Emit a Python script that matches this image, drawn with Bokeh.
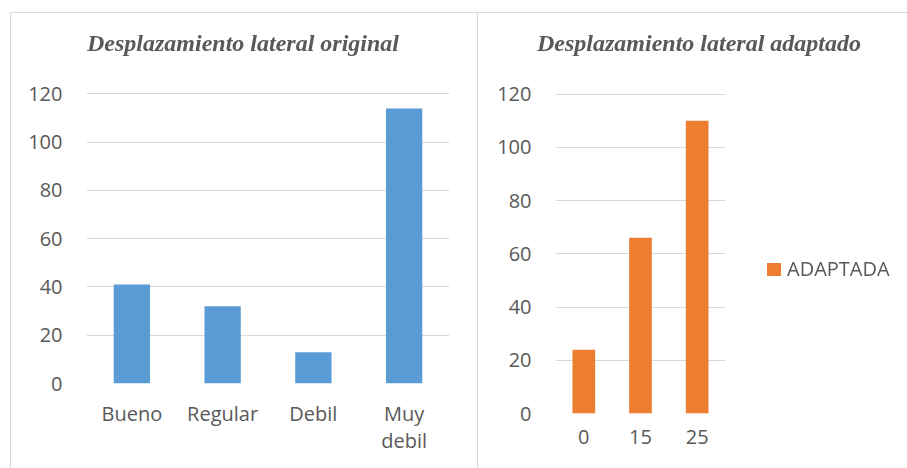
from bokeh.plotting import figure
from bokeh.layouts import row
from bokeh.models import (ColumnDataSource, SingleIntervalTicker, FactorRange,
                          CategoricalAxis, Div, CustomJSTickFormatter)
from bokeh.embed import file_html
from bokeh.resources import INLINE

# ---- data ----
original_categories = ["Bueno", "Regular", "Debil", "Muy debil"]
original_values = [41, 32, 13, 114]
adapted_categories = ["0", "15", "25"]
adapted_values = [24, 66, 110]
series_name = "ADAPTADA"
title_left = "Desplazamiento lateral original"
title_right = "Desplazamiento lateral adaptado"

BLUE = "#5b9bd5"
ORANGE = "#ed7d31"
TEXT = "#595959"
GRID = "#d9d9d9"
FONT = "Open Sans"
TFONT = "Liberation Serif"


def style_axis(ax):
    ax.axis_line_color = None
    ax.major_tick_line_color = None
    ax.minor_tick_line_color = None
    ax.major_label_text_color = TEXT
    ax.major_label_text_font = FONT
    ax.major_label_text_font_size = "20px"


def style(p):
    p.background_fill_color = "white"
    p.border_fill_color = None
    p.outline_line_color = None
    p.frame_align = False
    p.xgrid.grid_line_color = None
    p.ygrid.grid_line_color = GRID
    p.ygrid.grid_line_width = 1
    for ax in (p.xaxis[0], p.yaxis[0]):
        style_axis(ax)
    p.yaxis[0].ticker = SingleIntervalTicker(interval=20)
    p.yaxis[0].major_label_standoff = 18
    p.xaxis[0].major_label_standoff = 10


# ---- left chart ----
W1, H = 478, 468
p1 = figure(width=W1, height=H, x_range=FactorRange(*original_categories, range_padding=0),
            y_range=(0, 121), output_backend="svg", toolbar_location=None,
            min_border_left=86, min_border_right=29, min_border_top=91, min_border_bottom=85)
src1 = ColumnDataSource(dict(cat=original_categories, val=original_values))
p1.vbar(x="cat", top="val", width=0.4, source=src1, color=BLUE, line_color=None)
style(p1)
# two-line label "Muy / debil": first line on the main axis, second line on an extra axis
p1.xaxis[0].formatter = CustomJSTickFormatter(
    code='return tick == "Muy debil" ? "Muy" : tick;')
ax2 = CategoricalAxis(formatter=CustomJSTickFormatter(
    code='return tick == "Muy debil" ? "debil" : "";'))
style_axis(ax2)
ax2.major_label_standoff = -9
p1.add_layout(ax2, "below")

# ---- right chart ----
W2 = 907 - W1
p2 = figure(width=W2, height=H, x_range=FactorRange(*adapted_categories, range_padding=0),
            y_range=(0, 121), output_backend="svg", toolbar_location=None,
            min_border_left=77, min_border_right=182, min_border_top=91, min_border_bottom=55)
src2 = ColumnDataSource(dict(cat=adapted_categories, val=adapted_values))
p2.vbar(x="cat", top="val", width=0.4, source=src2, color=ORANGE, line_color=None)
style(p2)

# ---- panel borders, titles and legend (HTML overlay) ----
title_css = ("position:fixed;top:31px;margin:0;white-space:nowrap;line-height:24px;"
             "font-family:'%s';font-weight:bold;font-style:italic;font-size:24px;color:%s;"
             % (TFONT, TEXT))
legend_css = ("position:fixed;top:259px;left:787px;margin:0;white-space:nowrap;"
              "line-height:20px;font-family:'%s';font-size:20px;color:%s;" % (FONT, TEXT))
overlay_html = (
    '<div style="position:fixed;left:10px;top:12px;width:1000px;height:600px;'
    'border-left:1px solid #d9d9d9;border-top:1px solid #d9d9d9;pointer-events:none"></div>'
    '<div style="position:fixed;left:477px;top:12px;width:0px;height:600px;'
    'border-left:1px solid #d9d9d9;pointer-events:none"></div>'
    '<div style="%sleft:87px">%s</div>' % (title_css, title_left)
    + '<div style="%sleft:537px">%s</div>' % (title_css, title_right)
    + '<div style="position:fixed;left:767px;top:263px;width:14px;height:13px;'
      'background:%s"></div>' % ORANGE
    + '<div style="%s">%s</div>' % (legend_css, series_name)
)
overlay = Div(text=overlay_html, width=0, height=0, margin=0)

layout = row(p1, p2, overlay, spacing=0)
open("out.html", "w").write(file_html(layout, INLINE))
